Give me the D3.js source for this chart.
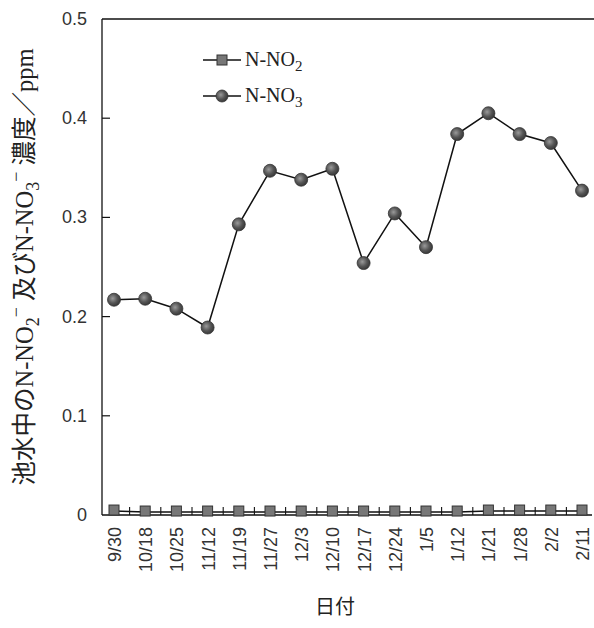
<!DOCTYPE html>
<html><head><meta charset="utf-8">
<script src="https://cdn.jsdelivr.net/npm/d3@7"></script>
<style>body{margin:0;background:#fff}</style>
</head><body>
<script>
const dates = ["9/30","10/18","10/25","11/12","11/19","11/27","12/3","12/10","12/17","12/24","1/5","1/12","1/21","1/28","2/2","2/11"];
const no2 = [0.004,0.003,0.003,0.003,0.003,0.003,0.003,0.003,0.003,0.003,0.003,0.003,0.004,0.004,0.004,0.004];
const no3 = [0.217,0.218,0.208,0.189,0.293,0.347,0.338,0.349,0.254,0.304,0.270,0.384,0.405,0.384,0.375,0.327];
const yTicks = [0,0.1,0.2,0.3,0.4,0.5];
const yTickLabels = ["0","0.1","0.2","0.3","0.4","0.5"];

const W=594,H=628;
const svg=d3.select("body").append("svg").attr("width",W).attr("height",H);
const L=102,R=594,T=19,B=515;
const x=d3.scalePoint().domain(dates).range([114,582]);
const y=d3.scaleLinear().domain([0,0.5]).range([B,T]);

const defs=svg.append("defs");
const g1=defs.append("radialGradient").attr("id","ball").attr("cx","40%").attr("cy","40%").attr("r","60%");
g1.append("stop").attr("offset","0%").attr("stop-color","#9a9a9a");
g1.append("stop").attr("offset","60%").attr("stop-color","#555");
g1.append("stop").attr("offset","100%").attr("stop-color","#3a3a3a");

// frame
svg.append("line").attr("x1",L).attr("x2",R).attr("y1",T).attr("y2",T).attr("stroke","#111").attr("stroke-width",1.3);
svg.append("line").attr("x1",L).attr("x2",L).attr("y1",T).attr("y2",B).attr("stroke","#111").attr("stroke-width",1.3);
svg.append("line").attr("x1",L).attr("x2",592).attr("y1",B).attr("y2",B).attr("stroke","#111").attr("stroke-width",1.3);

// y ticks
yTicks.forEach((v,i)=>{
  if(v>0 && v<0.5) svg.append("line").attr("x1",L).attr("x2",L+8).attr("y1",y(v)).attr("y2",y(v)).attr("stroke","#111").attr("stroke-width",1.2);
  svg.append("text").attr("x",L-15).attr("y",y(v)+6).attr("text-anchor","end")
    .attr("font-family","Liberation Sans, Arial, sans-serif").attr("font-size",18).attr("fill","#333").text(yTickLabels[i]);
});
// x ticks between categories
const step=x.step();
dates.forEach((d,i)=>{
  const xm=x(d)+step/2;
  if(i<dates.length-1) svg.append("line").attr("x1",xm).attr("x2",xm).attr("y1",B).attr("y2",B-8).attr("stroke","#111").attr("stroke-width",1.1);
  svg.append("text").attr("transform",`translate(${x(d)+7},${B+12}) rotate(-90)`).attr("text-anchor","end")
    .attr("font-family","Liberation Sans, Arial, sans-serif").attr("font-size",18).attr("fill","#333").text(d);
});

const line=d3.line().x((d,i)=>x(dates[i])).y(d=>y(d));
svg.append("path").attr("d",line(no2)).attr("fill","none").attr("stroke","#111").attr("stroke-width",1.4);
svg.append("path").attr("d",line(no3)).attr("fill","none").attr("stroke","#111").attr("stroke-width",1.5);

svg.selectAll(".sq").data(no2).enter().append("rect")
  .attr("x",(d,i)=>x(dates[i])-5).attr("y",d=>y(d)-6).attr("width",10).attr("height",10)
  .attr("fill","#777").attr("stroke","#333").attr("stroke-width",1);
svg.selectAll(".ci").data(no3).enter().append("circle")
  .attr("cx",(d,i)=>x(dates[i])).attr("cy",d=>y(d)).attr("r",6.5)
  .attr("fill","url(#ball)").attr("stroke","#333").attr("stroke-width",0.8);

// legend
const lg=[{k:"2",yy:60,t:"sq"},{k:"3",yy:96,t:"ci"}];
lg.forEach(o=>{
  svg.append("line").attr("x1",203).attr("x2",241).attr("y1",o.yy).attr("y2",o.yy).attr("stroke","#111").attr("stroke-width",1.4);
  if(o.t==="sq") svg.append("rect").attr("x",217).attr("y",o.yy-5).attr("width",10).attr("height",10).attr("fill","#777").attr("stroke","#333");
  else svg.append("circle").attr("cx",222).attr("cy",o.yy).attr("r",6).attr("fill","url(#ball)").attr("stroke","#333").attr("stroke-width",0.8);
  const t=svg.append("text").attr("x",245).attr("y",o.yy+6).attr("font-family","Liberation Serif, serif").attr("font-size",20).attr("fill","#222");
  t.append("tspan").text("N-NO");
  t.append("tspan").attr("dy",5).attr("font-size",15).text(o.k);
});

// y label
const yl=svg.append("text").attr("transform","translate(33,267) rotate(-90)").attr("text-anchor","middle")
  .attr("font-family","Liberation Serif, Noto Sans CJK JP, serif").attr("font-size",24.5).attr("fill","#222");
yl.append("tspan").text("池水中のN-NO");
yl.append("tspan").attr("dy",6).attr("font-size",18).text("2");
yl.append("tspan").attr("dy",-17).attr("font-size",18).text("−");
yl.append("tspan").attr("dy",11).text(" 及びN-NO");
yl.append("tspan").attr("dy",6).attr("font-size",18).text("3");
yl.append("tspan").attr("dy",-17).attr("font-size",18).text("−");
yl.append("tspan").attr("dy",11).text(" 濃度／ppm");

svg.append("text").attr("x",335).attr("y",614).attr("text-anchor","middle")
  .attr("font-family","Noto Sans CJK JP, sans-serif").attr("font-size",20).attr("fill","#222").text("日付");
</script>
</body></html>
